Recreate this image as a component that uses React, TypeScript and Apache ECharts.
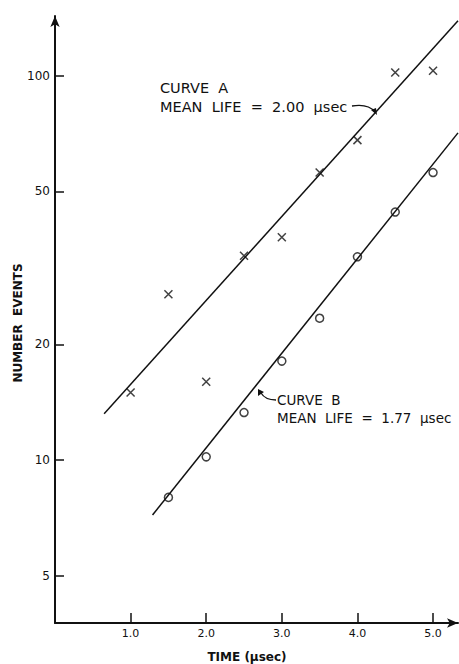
import React, { useEffect, useRef } from "react";
import * as echarts from "echarts";

const timeA = [1.0, 1.5, 2.0, 2.5, 3.0, 3.5, 4.0, 4.5, 5.0];
const eventsA = [15, 27, 16, 34, 38, 56, 68, 102, 103];
const timeB = [1.5, 2.0, 2.5, 3.0, 3.5, 4.0, 4.5, 5.0];
const eventsB = [8.0, 10.2, 13.3, 18.1, 23.4, 33.8, 44.2, 56];
const fitTimeA = [0.65, 5.33];
const fitEventsA = [13.2, 139];
const fitTimeB = [1.29, 5.33];
const fitEventsB = [7.2, 71];
const yTicks = [5, 10, 20, 50, 100];
const xTicks = [1, 2, 3, 4, 5];

const FONT = "DejaVu Sans";

export default function App() {
  const ref = useRef<HTMLDivElement>(null);
  useEffect(() => {
    if (!ref.current) return;
    const chart = echarts.init(ref.current, null, { renderer: "svg" });
    const pair = (xs: number[], ys: number[]) => xs.map((x, i) => [x, ys[i]]);
    chart.setOption({
      animation: false,
      backgroundColor: "#fff",
      grid: { left: 55, right: 1, top: 16, bottom: 41 },
      xAxis: {
        type: "value",
        min: 0,
        max: 5.33,
        interval: 1,
        axisLine: {
          lineStyle: { color: "#111", width: 2 },
          symbol: ["none", "arrow"],
          symbolSize: [7, 11],
        },
        axisTick: {
          inside: true,
          length: 10,
          customValues: xTicks,
          lineStyle: { color: "#111", width: 1.5 },
        },
        axisLabel: {
          customValues: xTicks,
          formatter: (v: number) => v.toFixed(1),
          color: "#111",
          fontFamily: FONT,
          fontSize: 11,
          margin: 5,
        },
        splitLine: { show: false },
      },
      yAxis: {
        type: "log",
        logBase: 10,
        min: 3.77,
        max: 143,
        axisLine: {
          lineStyle: { color: "#111", width: 2 },
          symbol: ["none", "arrow"],
          symbolSize: [7, 11],
        },
        axisTick: {
          inside: true,
          length: 9,
          customValues: yTicks,
          lineStyle: { color: "#111", width: 1.5 },
        },
        axisLabel: {
          customValues: yTicks,
          formatter: (v: number) => String(Math.round(v)),
          color: "#111",
          fontFamily: FONT,
          fontSize: 12,
          margin: 5,
        },
        splitLine: { show: false },
        minorTick: { show: false },
      },
      series: [
        {
          type: "line",
          data: pair(fitTimeA, fitEventsA),
          showSymbol: false,
          lineStyle: { color: "#111", width: 1.5 },
        },
        {
          type: "line",
          data: pair(fitTimeB, fitEventsB),
          showSymbol: false,
          lineStyle: { color: "#111", width: 1.5 },
        },
        {
          type: "scatter",
          data: pair(timeA, eventsA),
          symbol: "path://M0,0L10,10M10,0L0,10",
          symbolSize: 8,
          itemStyle: { color: "none", borderColor: "#111", borderWidth: 1.5 },
        },
        {
          type: "scatter",
          data: pair(timeB, eventsB),
          symbol: "circle",
          symbolSize: 8,
          itemStyle: { color: "#fff", borderColor: "#111", borderWidth: 1.5 },
        },
      ],
      graphic: [
        {
          type: "text",
          x: 18,
          y: 323,
          rotation: Math.PI / 2,
          style: {
            text: "NUMBER  EVENTS",
            fill: "#111",
            font: `bold 12px ${FONT}`,
            align: "center",
            verticalAlign: "middle",
          },
        },
        {
          type: "text",
          x: 247,
          y: 657,
          style: {
            text: "TIME (μsec)",
            fill: "#111",
            font: `bold 12px ${FONT}`,
            align: "center",
            verticalAlign: "middle",
          },
        },
        {
          type: "text",
          x: 160,
          y: 88,
          style: {
            text: "CURVE  A",
            fill: "#111",
            font: `14.5px ${FONT}`,
            verticalAlign: "middle",
          },
        },
        {
          type: "text",
          x: 160,
          y: 107,
          style: {
            text: "MEAN  LIFE  =  2.00  μsec",
            fill: "#111",
            font: `14.5px ${FONT}`,
            verticalAlign: "middle",
          },
        },
        {
          type: "bezierCurve",
          shape: { x1: 352, y1: 106, cpx1: 364, cpy1: 104, cpx2: 371, cpy2: 107, x2: 375, y2: 112 },
          style: { stroke: "#111", lineWidth: 1.3, fill: "none" },
        },
        {
          type: "polygon",
          shape: { points: [[377, 115], [371, 110], [376, 108]] },
          style: { fill: "#111" },
        },
        {
          type: "text",
          x: 277,
          y: 400,
          style: {
            text: "CURVE  B",
            fill: "#111",
            font: `13.5px ${FONT}`,
            verticalAlign: "middle",
          },
        },
        {
          type: "text",
          x: 277,
          y: 418,
          style: {
            text: "MEAN  LIFE  =  1.77  μsec",
            fill: "#111",
            font: `13.5px ${FONT}`,
            verticalAlign: "middle",
          },
        },
        {
          type: "bezierCurve",
          shape: { x1: 276, y1: 400, cpx1: 268, cpy1: 400, cpx2: 264, cpy2: 398, x2: 261, y2: 393 },
          style: { stroke: "#111", lineWidth: 1.3, fill: "none" },
        },
        {
          type: "polygon",
          shape: { points: [[258, 389], [258, 396], [264, 392]] },
          style: { fill: "#111" },
        },
      ],
    });
    return () => chart.dispose();
  }, []);
  return (
    <div
      ref={ref}
      style={{ position: "fixed", left: 0, top: 0, width: 459, height: 664, background: "#fff" }}
    />
  );
}
